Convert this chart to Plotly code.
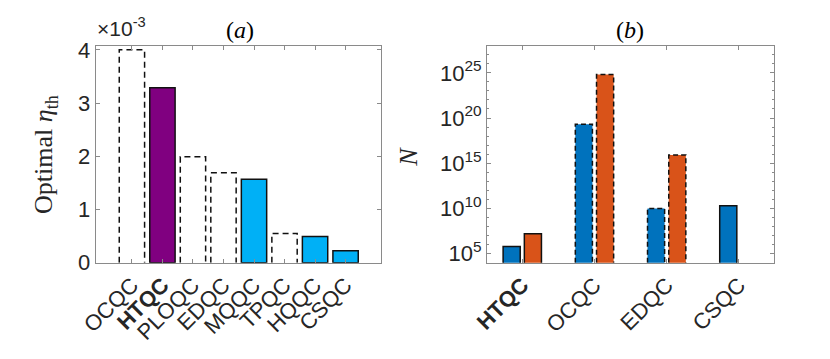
import plotly.graph_objects as go

# panel (a): optimal threshold efficiency
cats_a = ["OCQC", "HTQC", "PLOQC", "EDQC", "MQQC", "TPQC", "HQQC", "CSQC"]
eta_th = [4.0e-3, 3.29e-3, 1.99e-3, 1.69e-3, 1.57e-3, 0.55e-3, 0.49e-3, 0.225e-3]
kind_a = ["dash", "ours", "dash", "dash", "solid", "dash", "solid", "solid"]

# panel (b): number of devices N (log)
cats_b = ["HTQC", "OCQC", "EDQC", "CSQC"]
n_blue = [6.3e5, 2.0e19, 1.0e10, 2.0e10]
n_orange = [1.6e7, 6.3e24, 8.0e15, None]
dashed_b = [False, True, True, False]

fill_a = {"dash": "white", "ours": "#800080", "solid": "#00b0f6"}
BLUE = "#0072bd"
ORANGE = "#d95319"
AX = "#8a8a8a"
TXT = "#262626"
SANS = "Liberation Sans, Arial, sans-serif"
SERIF = "Liberation Serif, Times New Roman, serif"

W, H = 830, 359
SH = 8  # the page body adds an 8px margin, so pull everything up/left by that


def px(x):
    return (x - SH) / W


def py(y):
    return 1 - (y - SH) / H


fig = go.Figure()

# ---- panel (a)
wa = 0.83
xa = list(range(len(cats_a)))
fig.add_trace(go.Bar(
    x=xa, y=eta_th, width=wa, xaxis="x", yaxis="y",
    marker=dict(color=[fill_a[k] for k in kind_a],
                line=dict(color=["rgba(0,0,0,0)" if k == "dash" else "#111" for k in kind_a],
                          width=1.5)),
    showlegend=False))
for i, (v, k) in enumerate(zip(eta_th, kind_a)):
    if k == "dash":
        fig.add_trace(go.Scatter(
            x=[i - wa / 2, i - wa / 2, i + wa / 2, i + wa / 2], y=[0, v, v, 0],
            mode="lines", line=dict(color="#111", width=1.5, dash="6px,4px"),
            xaxis="x", yaxis="y", showlegend=False, hoverinfo="skip"))

# ---- panel (b)
wb = 0.237
off = 0.147
ybot = 1e4
for vals, col, sgn in [(n_blue, BLUE, -1), (n_orange, ORANGE, 1)]:
    xs = [i + sgn * off for i in range(len(cats_b))]
    fig.add_trace(go.Bar(
        x=xs, y=vals, width=wb, xaxis="x2", yaxis="y2",
        marker=dict(color=col,
                    line=dict(color=["rgba(0,0,0,0)" if d else "#111" for d in dashed_b],
                              width=1.5)),
        showlegend=False))
    for x, v, d in zip(xs, vals, dashed_b):
        if d and v is not None:
            fig.add_trace(go.Scatter(
                x=[x - wb / 2, x - wb / 2, x + wb / 2, x + wb / 2], y=[ybot, v, v, ybot],
                mode="lines", line=dict(color="#111", width=1.5, dash="5px,3px"),
                xaxis="x2", yaxis="y2", showlegend=False, hoverinfo="skip"))

axcommon = dict(showline=True, linecolor=AX, linewidth=1, mirror="ticks",
                ticks="inside", ticklen=4, tickcolor=AX, showgrid=False, zeroline=False)
ydom = [py(270), py(40)]

fig.update_layout(
    width=W, height=H,
    margin=dict(l=0, r=0, t=0, b=0),
    paper_bgcolor="white", plot_bgcolor="white",
    barmode="overlay",
    font=dict(family=SANS, color=TXT, size=22),
    xaxis=dict(domain=[px(81), px(372)], range=[-1.19, 8.16],
               tickvals=xa,
               ticktext=["<b>%s</b>" % c if k == "ours" else c for c, k in zip(cats_a, kind_a)],
               tickangle=-45, tickfont=dict(size=22, color=TXT), anchor="y", **axcommon),
    yaxis=dict(domain=ydom, range=[0, 4.07e-3],
               tickvals=[0, 1e-3, 2e-3, 3e-3, 4e-3], ticktext=["0", "1", "2", "3", "4"],
               tickfont=dict(size=22, color=TXT), anchor="x", **axcommon),
    xaxis2=dict(domain=[px(480), px(773)], range=[-0.49, 3.49],
                tickvals=list(range(len(cats_b))),
                ticktext=["<b>HTQC</b>", "OCQC", "EDQC", "CSQC"],
                tickangle=-45, tickfont=dict(size=22, color=TXT), anchor="y2", **axcommon),
    yaxis2=dict(domain=ydom, type="log", range=[4, 27.95],
                tickvals=[1e5, 1e10, 1e15, 1e20, 1e25],
                ticktext=["10<sup>5</sup>", "10<sup>10</sup>", "10<sup>15</sup>",
                          "10<sup>20</sup>", "10<sup>25</sup>"],
                minor=dict(tickvals=[10.0 ** k for k in range(4, 28)], ticks="inside",
                           ticklen=2, tickcolor=AX),
                tickfont=dict(size=22, color=TXT), anchor="x2", **axcommon),
)

ann = [
    dict(text="×10<sup>-3</sup>", x=px(80), y=py(36), xanchor="left", yanchor="bottom",
         font=dict(family=SANS, size=21, color=TXT)),
    dict(text="(<i>a</i>)", x=px(228), y=py(23), xanchor="center", yanchor="middle",
         font=dict(family=SERIF, size=24, color="black")),
    dict(text="(<i>b</i>)", x=px(626), y=py(23), xanchor="center", yanchor="middle",
         font=dict(family=SERIF, size=24, color="black")),
    dict(text="Optimal <i>η</i><sub>th</sub>", x=px(30), y=py(155), textangle=-90,
         xanchor="center", yanchor="middle", font=dict(family=SERIF, size=26, color=TXT)),
    dict(text="<i>N</i>", x=px(400), y=py(157), textangle=-90,
         xanchor="center", yanchor="middle", font=dict(family=SERIF, size=26, color=TXT)),
]
for a in ann:
    fig.add_annotation(xref="paper", yref="paper", showarrow=False, **a)

fig.write_html("out.html")
